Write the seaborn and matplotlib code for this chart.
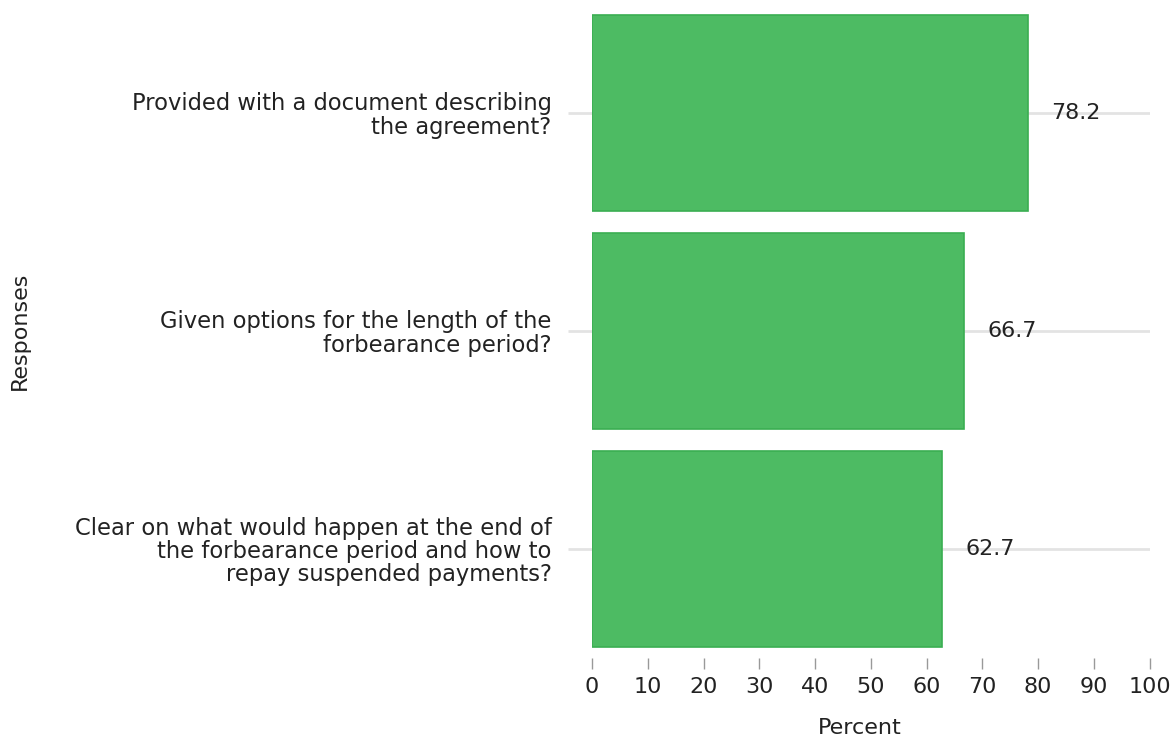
import matplotlib
matplotlib.use("Agg")
import matplotlib.pyplot as plt
import seaborn as sns
import pandas as pd

categories = [
    "Provided with a document describing\nthe agreement?",
    "Given options for the length of the\nforbearance period?",
    "Clear on what would happen at the end of\nthe forbearance period and how to\nrepay suspended payments?",
]
values = [78.2, 66.7, 62.7]
x_ticks = [0, 10, 20, 30, 40, 50, 60, 70, 80, 90, 100]

df = pd.DataFrame({"Responses": categories, "Percent": values})

sns.set_theme(style="white")
plt.rcParams['font.family'] = ['DejaVu Sans']

FS = 16

fig = plt.figure(figsize=(11.73, 7.38), dpi=100)
ax = fig.add_axes([0.5047, 0.1084, 0.4753, 0.8862])

sns.barplot(data=df, x="Percent", y="Responses", orient="h", color="#4dbb63",
            saturation=1, width=0.9, edgecolor="#3aae52", linewidth=1.2, ax=ax, zorder=3)

ax.set_xlim(0, 100)
ax.set_ylim(2.5, -0.5)
ax.set_xticks(x_ticks)
ax.set_xticklabels([str(t) for t in x_ticks])

for s in ax.spines.values():
    s.set_visible(False)

ax.grid(axis="y", color="#e3e3e3", linewidth=2, zorder=0)
ax.grid(axis="x", visible=False)
ax.set_axisbelow(True)

ax.tick_params(axis="x", bottom=True, length=8, width=1, color="#999999", pad=6,
               labelsize=FS, labelcolor="#222222")
ax.tick_params(axis="y", left=True, length=17, width=2, color="#e3e3e3", pad=12,
               labelsize=16.3, labelcolor="#222222")
for lbl in ax.get_yticklabels():
    lbl.set_horizontalalignment("right")
    lbl.set_multialignment("right")
    lbl.set_linespacing(1.01)

for i, v in enumerate(values):
    ax.annotate(f"{v:.1f}", xy=(v, i), xytext=(17, 0), textcoords="offset points",
                ha="left", va="center", fontsize=FS, color="#222222")

ax.set_xlabel("Percent", fontsize=FS, color="#222222")
ax.xaxis.set_label_coords(0.481, -0.092)
ax.set_ylabel("Responses", fontsize=FS, color="#222222")
ax.yaxis.set_label_coords(-1.009, 0.5)

fig.savefig("out.png", dpi=100)
